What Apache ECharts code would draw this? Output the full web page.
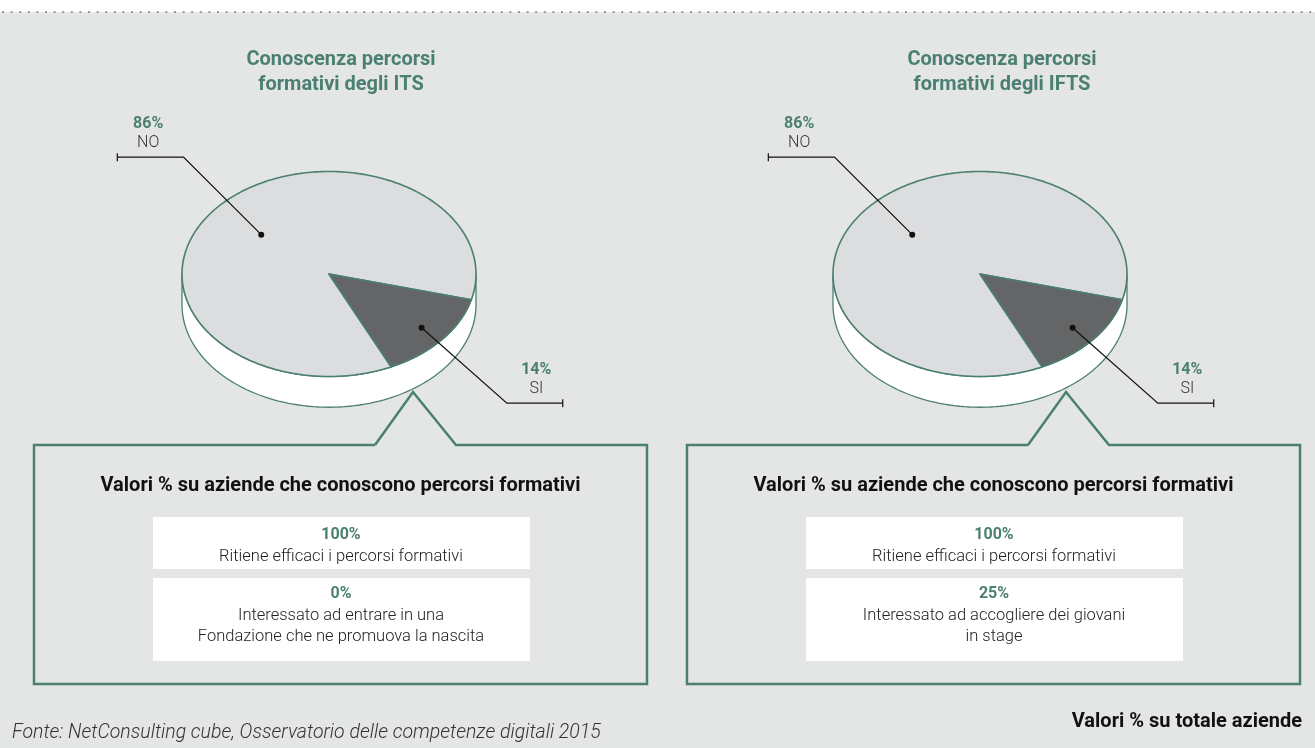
<!DOCTYPE html>
<html>
<head>
<meta charset="utf-8">
<script src="https://cdn.jsdelivr.net/npm/echarts@6/dist/echarts.min.js"></script>
<style>
html, body { margin: 0; padding: 0; background: #fff; }
#main { width: 1315px; height: 748px; }
</style>
</head>
<body>
<div id="main"></div>
<script>
// data
var pieNames = ['NO', 'SI'];
var itsValues = [86, 14];
var iftsValues = [86, 14];
var pieTitles = ['Conoscenza percorsi\nformativi degli ITS', 'Conoscenza percorsi\nformativi degli IFTS'];
var boxTitle = 'Valori % su aziende che conoscono percorsi formativi';
var itsRowValues = ['100%', '0%'];
var itsRowTexts = ['Ritiene efficaci i percorsi formativi', 'Interessato ad entrare in una\nFondazione che ne promuova la nascita'];
var iftsRowValues = ['100%', '25%'];
var iftsRowTexts = ['Ritiene efficaci i percorsi formativi', 'Interessato ad accogliere dei giovani\nin stage'];
var sourceText = 'Fonte: NetConsulting cube, Osservatorio delle competenze digitali 2015';
var noteText = 'Valori % su totale aziende';

var GREEN = '#4b7f71';
var BG = '#e4e6e5';
var FONT = 'Roboto';
var sliceColors = ['#dcdddf', '#646567'];
var START = 65;      // first slice starts here, degrees clockwise from 3 o'clock
var DEPTH = 0.3;     // cylinder height in y units

// leader line layout in axis units, per slice
var labelLayout = [
    { r: 0.6, elbow: [-0.99, 1.14], end: [-1.44, 1.14], textX: -1.23 },
    { r: 0.82, elbow: [1.21, -1.26], end: [1.59, -1.26], textX: 1.41 }
];

function pt(api, ang, r, drop) {
    var a = ang * Math.PI / 180;
    return api.coord([r * Math.cos(a), -r * Math.sin(a) - (drop || 0)]);
}

function angles(values, i) {
    var total = 0, before = 0;
    values.forEach(function (v, k) { total += v; if (k < i) before += v; });
    var a0 = START + before / total * 360;
    return [a0, a0 + values[i] / total * 360];
}

function sideRender(params, api) {
    var pts = [];
    for (var a = 0; a <= 180; a += 2) pts.push(pt(api, a, 1));
    for (var b = 180; b >= 0; b -= 2) pts.push(pt(api, b, 1, DEPTH));
    return {
        type: 'polygon',
        shape: { points: pts },
        style: { fill: '#fff', stroke: GREEN, lineWidth: 1.3 }
    };
}

function sliceRender(values) {
    return function (params, api) {
        var i = params.dataIndex;
        var ang = angles(values, i);
        var pts = [api.coord([0, 0])];
        for (var a = ang[0]; a < ang[1]; a += 1) pts.push(pt(api, a, 1));
        pts.push(pt(api, ang[1], 1));
        return {
            type: 'polygon',
            shape: { points: pts },
            style: { fill: sliceColors[i], stroke: GREEN, lineWidth: 1.6, lineJoin: 'round' }
        };
    };
}

function labelRender(values) {
    return function (params, api) {
        var i = params.dataIndex;
        var ang = angles(values, i);
        var lay = labelLayout[i];
        var dot = pt(api, (ang[0] + ang[1]) / 2, lay.r);
        var elbow = api.coord(lay.elbow);
        var end = api.coord(lay.end);
        var tx = api.coord([lay.textX, lay.elbow[1]]);
        return {
            type: 'group',
            children: [
                { type: 'polyline', shape: { points: [dot, elbow, end] }, style: { stroke: '#111', lineWidth: 1.2, fill: null } },
                { type: 'line', shape: { x1: end[0], y1: end[1] - 4, x2: end[0], y2: end[1] + 4 }, style: { stroke: '#111', lineWidth: 1.2 } },
                { type: 'circle', shape: { cx: dot[0], cy: dot[1], r: 3 }, style: { fill: '#111' } },
                { type: 'text', x: tx[0], y: tx[1] - 6, style: { text: pieNames[i], font: '300 16px ' + FONT, fill: '#333', align: 'center', verticalAlign: 'bottom' } },
                { type: 'text', x: tx[0], y: tx[1] - 25, style: { text: api.value(0) + '%', font: 'bold 16px ' + FONT, fill: GREEN, align: 'center', verticalAlign: 'bottom' } }
            ]
        };
    };
}

function pieSeries(idx, values) {
    var d = values.map(function (v, k) { return [v, pieNames[k]]; });
    return [
        { type: 'custom', xAxisIndex: idx, yAxisIndex: idx, renderItem: sideRender, data: [[0]], z: 1, silent: true },
        { type: 'custom', xAxisIndex: idx, yAxisIndex: idx, renderItem: sliceRender(values), data: d, z: 2 },
        { type: 'custom', xAxisIndex: idx, yAxisIndex: idx, renderItem: labelRender(values), data: d, z: 3, silent: true }
    ];
}

function box(x0, x1, apex, rowValues, rowTexts) {
    var top = 445, bottom = 684, mid = (x0 + x1) / 2;
    var els = [
        {
            type: 'polyline',
            shape: { points: [[apex - 38, top], [x0, top], [x0, bottom], [x1, bottom], [x1, top], [apex + 43, top], [apex, 392], [apex - 38, top]] },
            style: { stroke: GREEN, lineWidth: 2.5, fill: null }
        },
        { type: 'text', x: mid, y: 486, style: { text: boxTitle, font: 'bold 20px ' + FONT, fill: '#111', align: 'center', verticalAlign: 'middle' } },
        { type: 'rect', shape: { x: x0 + 119, y: 517, width: 377, height: 52 }, style: { fill: '#fff' } },
        { type: 'rect', shape: { x: x0 + 119, y: 578, width: 377, height: 83 }, style: { fill: '#fff' } }
    ];
    var rowTop = [535, 594];
    rowValues.forEach(function (v, k) {
        els.push({ type: 'text', x: x0 + 307, y: rowTop[k], style: { text: v, font: 'bold 16px ' + FONT, fill: GREEN, align: 'center', verticalAlign: 'middle' } });
        els.push({ type: 'text', x: x0 + 307, y: rowTop[k] + 11, style: { text: rowTexts[k], font: '300 16.5px ' + FONT, fill: '#222', align: 'center', verticalAlign: 'top', lineHeight: 21 } });
    });
    return els;
}

var chart = echarts.init(document.getElementById('main'));

var option = {
    backgroundColor: '#fff',
    animation: false,
    title: [0, 1].map(function (i) {
        return {
            text: pieTitles[i],
            left: i === 0 ? 336 : 997,
            top: 42,
            textAlign: 'center',
            textStyle: { fontFamily: FONT, fontSize: 20, fontWeight: 'bold', color: GREEN, lineHeight: 25 }
        };
    }),
    grid: [
        { left: 35, top: 110, width: 588, height: 328 },
        { left: 686, top: 110, width: 588, height: 328 }
    ],
    xAxis: [0, 1].map(function (i) {
        return { gridIndex: i, type: 'value', min: -2, max: 2, show: false };
    }),
    yAxis: [0, 1].map(function (i) {
        return { gridIndex: i, type: 'value', min: -1.6, max: 1.6, show: false };
    }),
    graphic: [
        { type: 'rect', shape: { x: 0, y: 12, width: 1315, height: 736 }, style: { fill: BG }, z: -10 },
        { type: 'line', shape: { x1: 2, y1: 12, x2: 1315, y2: 12 }, style: { stroke: '#9a9a9a', lineWidth: 2, lineDash: [2, 6.6] }, z: -9 },
        { type: 'text', x: 12, y: 733, style: { text: sourceText, font: 'italic 300 19.5px ' + FONT, fill: '#333', verticalAlign: 'middle' } },
        { type: 'text', x: 1302, y: 722, style: { text: noteText, font: 'bold 20px ' + FONT, fill: '#111', align: 'right', verticalAlign: 'middle' } }
    ].concat(box(34, 647, 413, itsRowValues, itsRowTexts))
     .concat(box(687, 1300, 1066, iftsRowValues, iftsRowTexts)),
    series: pieSeries(0, itsValues).concat(pieSeries(1, iftsValues))
};

chart.setOption(option);
</script>
</body>
</html>
